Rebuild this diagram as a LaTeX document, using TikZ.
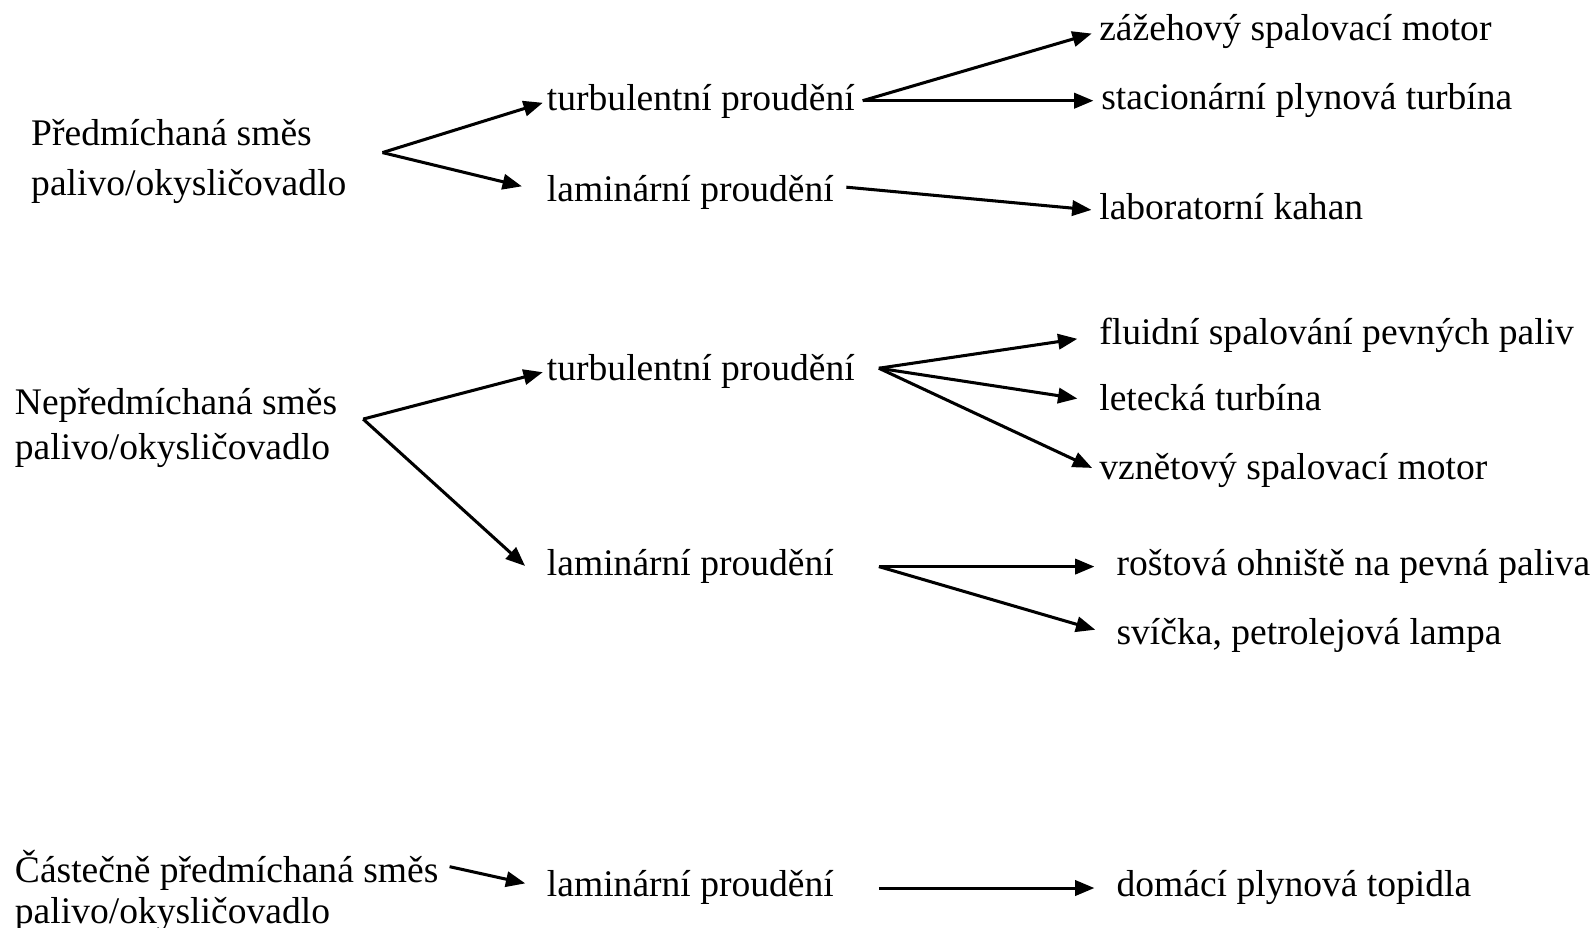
\documentclass[tikz,border=0pt]{standalone}
\usepackage{fontspec}
\setmainfont{Liberation Serif}
\usetikzlibrary{arrows.meta}

\begin{document}
\begin{tikzpicture}[x=0.01cm, y=-0.01cm,
  item/.style={anchor=west, inner sep=0pt, text height=7.5pt, text depth=2.5pt,
    font=\fontsize{10.5}{12.5}\selectfont},
  mix/.style={anchor=west, inner sep=0pt, align=left, font=\fontsize{10.5}{12.5}\selectfont},
  arr/.style={-{Triangle[length=0.19cm,width=0.15cm]}, line width=0.85pt}]
% Set the frame of the picture
\useasboundingbox (0,0) rectangle (1568,912);

% Premixed mixture
\node[mix] (pre) at (30,159) {Předmíchaná směs\\[1.5pt]palivo/okysličovadlo};
\node[item] (preTurb) at (537,100) {turbulentní proudění};
\node[item] (preLam) at (537,189) {laminární proudění};
\node[item] (zazeh) at (1080,31) {zážehový spalovací motor};
\node[item] (stac) at (1082,99) {stacionární plynová turbína};
\node[item] (lab) at (1080,207) {laboratorní kahan};
\coordinate (preFork) at (376,150);
\coordinate (preTurbFork) at (848,99);
\coordinate (preLamFork) at (832,184);
\draw[arr, shorten >=1pt] (preFork) -- (preTurb.west);
\draw[arr, shorten >=7pt] (preFork) -- (preLam.west);
\draw[arr, shorten >=2pt] (preTurbFork) -- (zazeh.west);
\draw[arr, shorten >=2pt] (preTurbFork) -- (stac.west);
\draw[arr, shorten >=2pt] (preLamFork) -- (lab.west);

% Non-premixed mixture
\node[mix] (non) at (14,421) {Nepředmíchaná směs\\palivo/okysličovadlo};
\node[item] (nonTurb) at (537,365) {turbulentní proudění};
\node[item] (nonLam) at (537,557) {laminární proudění};
\node[item] (fluid) at (1080,330) {fluidní spalování pevných paliv};
\node[item] (let) at (1080,395) {letecká turbína};
\node[item] (vznet) at (1080,463) {vznětový spalovací motor};
\node[item] (rost) at (1097,557) {roštová ohniště na pevná paliva};
\node[item] (svic) at (1097,625) {svíčka, petrolejová lampa};
\coordinate (nonFork) at (357,412);
\coordinate (nonTurbFork) at (864,362);
\coordinate (nonLamFork) at (864,557);
\draw[arr, shorten >=1pt] (nonFork) -- (nonTurb.west);
\draw[arr, shorten >=8pt] (nonFork) -- (nonLam.south west);
\draw[arr, shorten >=6pt] (nonTurbFork) -- (fluid.west);
\draw[arr, shorten >=6pt] (nonTurbFork) -- (let.west);
\draw[arr, shorten >=2pt] (nonTurbFork) -- (vznet.west);
\draw[arr, shorten >=6pt] (nonLamFork) -- (rost.west);
\draw[arr, shorten >=6pt] (nonLamFork) -- (svic.west);

% Partially premixed mixture
\node[mix] (part) at (14,876) {Částečně předmíchaná směs\\[-1.2pt]palivo/okysličovadlo};
\node[item] (partLam) at (537,873) {laminární proudění};
\node[item] (dom) at (1097,873) {domácí plynová topidla};
\coordinate (partFork) at (442,852);
\coordinate (partLamFork) at (864,873);
\draw[arr, shorten >=6pt] (partFork) -- (partLam.west);
\draw[arr, shorten >=6pt] (partLamFork) -- (dom.west);
\end{tikzpicture}
\end{document}
